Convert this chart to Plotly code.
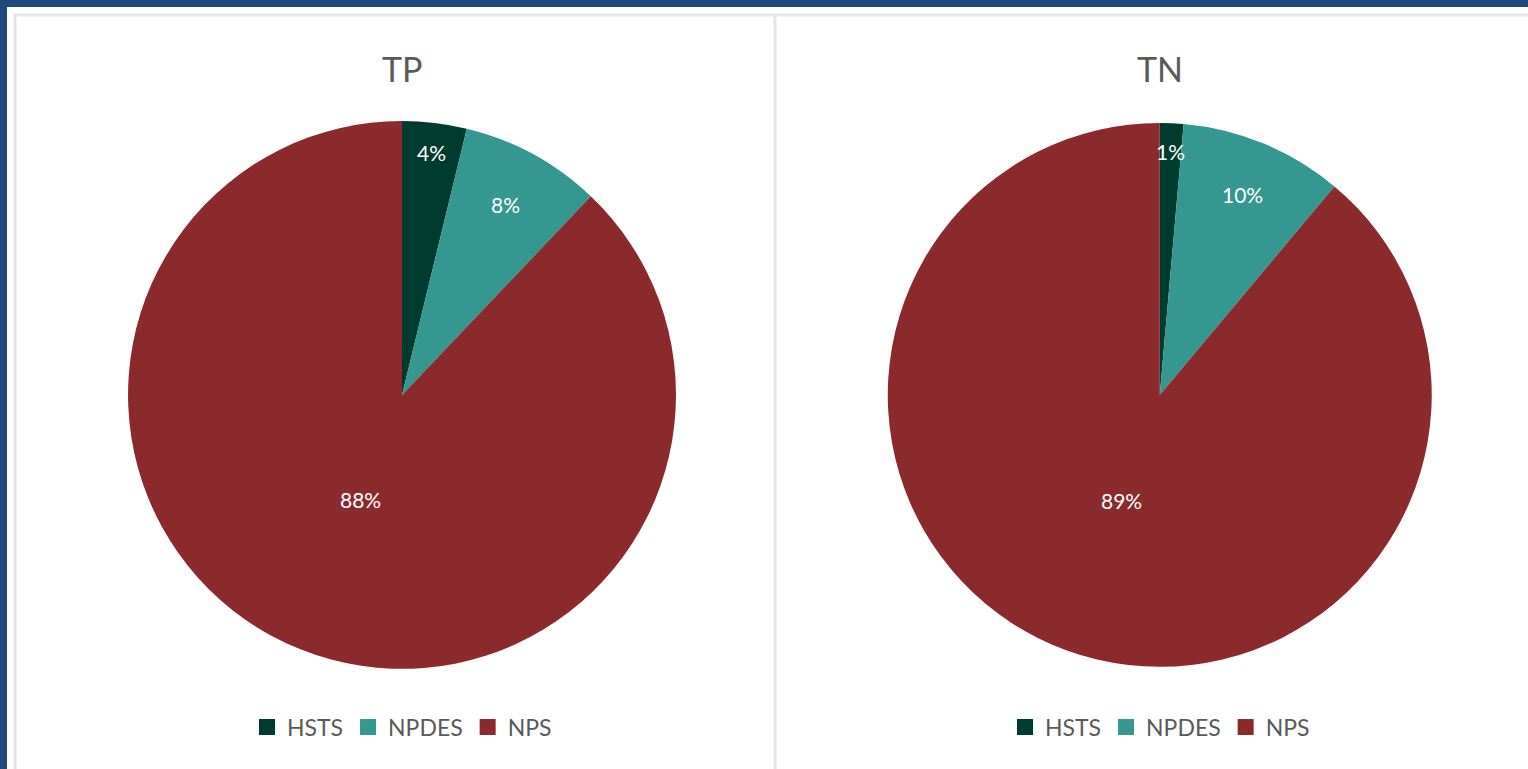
import math
import plotly.graph_objects as go

W, H = 1528, 769

categories = ["HSTS", "NPDES", "NPS"]
tp_values = [3.8, 8.3, 87.9]
tn_values = [1.4, 9.7, 88.9]
titles = ["TP", "TN"]

colors = ["#003B30", "#35978F", "#8B2A2D"]
txt_grey = "#595959"
font_family = "Lato, 'Open Sans', sans-serif"

# pie domains (paper fractions)
dom_y = [0.130, 0.843]
dom_x = [[0.0838, 0.4424], [0.581, 0.937]]
label_r = [[0.89, 0.79, 0.41], [0.89, 0.79, 0.41]]

fig = go.Figure()
series = [tp_values, tn_values]
for i, vals in enumerate(series):
    fig.add_trace(go.Pie(
        labels=categories, values=vals, sort=False, direction="clockwise",
        rotation=0, marker=dict(colors=colors, line=dict(color="white", width=0)),
        textinfo="none", hoverinfo="label+percent",
        domain=dict(x=dom_x[i], y=dom_y),
        showlegend=False,
    ))

# legend entries (one set per panel)
for li, leg in enumerate(["legend", "legend2"]):
    for c, col in zip(categories, colors):
        fig.add_trace(go.Scatter(
            x=[None], y=[None], mode="markers", name=c, legend=leg,
            marker=dict(symbol="square", size=16, color=col),
            hoverinfo="skip", showlegend=True,
        ))

annotations = []
for i, vals in enumerate(series):
    total = sum(vals)
    cx = (dom_x[i][0] + dom_x[i][1]) / 2 * W
    cy = (1 - (dom_y[0] + dom_y[1]) / 2) * H
    R = (dom_y[1] - dom_y[0]) * H / 2
    cum = 0
    for j, v in enumerate(vals):
        mid = (cum + v / 2) / total * 2 * math.pi
        cum += v
        r = label_r[i][j] * R
        px = cx + r * math.sin(mid)
        py = cy - r * math.cos(mid)
        annotations.append(dict(
            x=px / W, y=1 - py / H, xref="paper", yref="paper",
            xanchor="center", yanchor="middle",
            text=f"{round(v / total * 100)}%", showarrow=False,
            font=dict(size=21, color="white", family=font_family),
        ))
    annotations.append(dict(
        x=cx / W, y=1 - 68 / H, xref="paper", yref="paper", text=titles[i],
        showarrow=False, font=dict(size=34, color=txt_grey, family=font_family),
        xanchor="center", yanchor="middle",
    ))

shapes = [
    dict(type="rect", xref="paper", yref="paper", x0=0, x1=1, y0=0, y1=1,
         fillcolor="#1F497D", line=dict(width=0), layer="below"),
    dict(type="rect", xref="paper", yref="paper", x0=7 / W, x1=1, y0=0, y1=1 - 7 / H,
         fillcolor="white", line=dict(width=0), layer="below"),
    dict(type="rect", xref="paper", yref="paper", x0=15 / W, x1=1.01, y0=-0.01, y1=1 - 15 / H,
         fillcolor="white", line=dict(width=3, color="#E6E6E6"), layer="below"),
    dict(type="line", xref="paper", yref="paper", x0=775 / W, x1=775 / W, y0=-0.01, y1=1 - 15 / H,
         line=dict(width=3, color="#E6E6E6"), layer="below"),
]

legend_common = dict(orientation="h", xanchor="center", yanchor="middle",
                     y=1 - 727 / H, font=dict(size=23, color=txt_grey, family=font_family),
                     bgcolor="rgba(0,0,0,0)", itemclick=False, itemdoubleclick=False,
                     itemwidth=30, tracegroupgap=0)

fig.update_layout(
    width=W, height=H, margin=dict(l=0, r=0, t=0, b=0),
    paper_bgcolor="white", plot_bgcolor="rgba(0,0,0,0)",
    annotations=annotations, shapes=shapes,
    xaxis=dict(visible=False), yaxis=dict(visible=False),
    legend=dict(x=402 / W, **legend_common),
    legend2=dict(x=1160 / W, **legend_common),
)

fig.write_html(
    "out.html",
    config={"displayModeBar": False},
    post_script="document.body.style.margin='0';document.body.style.overflow='hidden';",
)
